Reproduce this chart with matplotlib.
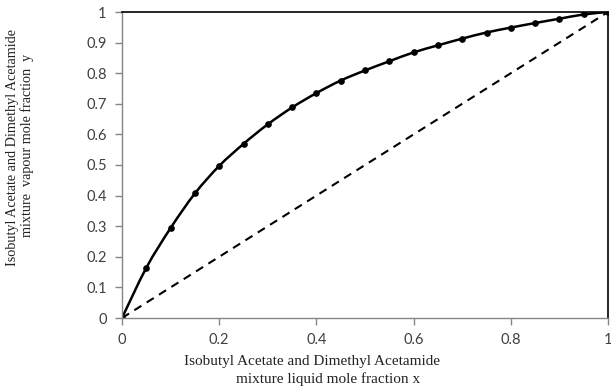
import matplotlib
matplotlib.use("Agg")
import matplotlib.pyplot as plt
from matplotlib.path import Path
from matplotlib.patches import PathPatch
from matplotlib.ticker import FuncFormatter

# Vapour-liquid equilibrium data: liquid mole fraction x vs vapour mole fraction y
x_liquid = [0.0, 0.05, 0.10, 0.15, 0.20, 0.25, 0.30, 0.35, 0.40, 0.45, 0.50,
            0.55, 0.60, 0.65, 0.70, 0.75, 0.80, 0.85, 0.90, 0.95, 1.0]
y_vapour = [0.0, 0.164, 0.294, 0.407, 0.497, 0.569, 0.633, 0.688, 0.735, 0.776, 0.809,
            0.839, 0.868, 0.891, 0.913, 0.933, 0.949, 0.964, 0.978, 0.992, 1.0]
diag = [0.0, 1.0]

x_ticks = [0, 0.2, 0.4, 0.6, 0.8, 1]
y_ticks = [0, 0.1, 0.2, 0.3, 0.4, 0.5, 0.6, 0.7, 0.8, 0.9, 1]


def smooth_path(xs, ys):
    """Cubic Bezier path through every point (Catmull-Rom style tangents)."""
    pts = list(zip(xs, ys))
    n = len(pts)
    verts = [pts[0]]
    codes = [Path.MOVETO]
    for i in range(n - 1):
        p0 = pts[i - 1] if i > 0 else pts[i]
        p1 = pts[i]
        p2 = pts[i + 1]
        p3 = pts[i + 2] if i + 2 < n else pts[i + 1]
        c1 = (p1[0] + (p2[0] - p0[0]) / 6, p1[1] + (p2[1] - p0[1]) / 6)
        c2 = (p2[0] - (p3[0] - p1[0]) / 6, p2[1] - (p3[1] - p1[1]) / 6)
        verts += [c1, c2, p2]
        codes += [Path.CURVE4] * 3
    return Path(verts, codes)


W, H = 611, 391
fig = plt.figure(figsize=(W / 100, H / 100), dpi=100)
ax = fig.add_axes([122 / W, 1 - 318 / H, (608 - 122) / W, (318 - 12) / H])

ax.plot(diag, diag, color="black", lw=1.5, ls=(0, (4, 3)))
ax.add_patch(PathPatch(smooth_path(x_liquid, y_vapour), facecolor="none",
                       edgecolor="black", lw=1.8, capstyle="round"))
ax.plot(x_liquid, y_vapour, ls="none", marker="o", ms=3.8,
        markerfacecolor="black", markeredgecolor="black")

ax.set_xlim(0, 1)
ax.set_ylim(0, 1)
ax.set_xticks(x_ticks)
ax.set_yticks(y_ticks)
fmt = FuncFormatter(lambda v, p: "%g" % v)
ax.xaxis.set_major_formatter(fmt)
ax.yaxis.set_major_formatter(fmt)

grey = "#868686"
for side in ("left", "bottom"):
    ax.spines[side].set_color(grey)
    ax.spines[side].set_linewidth(1.0)
for side in ("top", "right"):
    ax.spines[side].set_color("black")
    ax.spines[side].set_linewidth(1.2)

ax.tick_params(axis="both", direction="out", length=5, width=1, color=grey,
               labelsize=10.5, labelcolor="#404040", pad=6)
for lab in ax.get_xticklabels() + ax.get_yticklabels():
    lab.set_fontfamily("Lato")

serif = "Liberation Serif"
fig.text(312.5 / W, 1 - 362 / H, "Isobutyl Acetate and Dimethyl Acetamide",
         ha="center", va="center", fontsize=11, family=serif, color="#222222")
fig.text(328.5 / W, 1 - 379 / H, "mixture liquid mole fraction x",
         ha="center", va="center", fontsize=11, family=serif, color="#222222")
fig.text(13 / W, 1 - 147 / H, "Isobutyl Acetate and Dimethyl Acetamide",
         ha="center", va="center", rotation=90, fontsize=10.2, family=serif,
         color="#222222")
fig.text(27 / W, 1 - 145 / H, "mixture  vapour mole fraction  y",
         ha="center", va="center", rotation=90, fontsize=10.2, family=serif,
         color="#222222")

fig.savefig("out.png", dpi=100)
